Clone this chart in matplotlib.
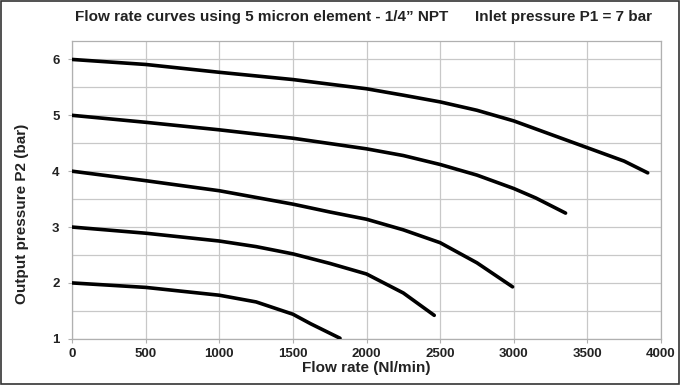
import matplotlib.pyplot as plt
from matplotlib.patches import Rectangle

# curves, one per start pressure
flow_6 = [0, 500, 1000, 1500, 2000, 2250, 2500, 2750, 3000, 3250, 3500, 3750, 3910]
p2_6 = [6.0, 5.91, 5.77, 5.64, 5.475, 5.36, 5.24, 5.09, 4.90, 4.66, 4.42, 4.18, 3.97]
flow_5 = [0, 500, 1000, 1500, 2000, 2250, 2500, 2750, 3000, 3150, 3352]
p2_5 = [5.0, 4.875, 4.74, 4.59, 4.40, 4.28, 4.12, 3.93, 3.69, 3.52, 3.25]
flow_4 = [0, 500, 1000, 1250, 1500, 1750, 2000, 2250, 2500, 2750, 2992]
p2_4 = [4.0, 3.83, 3.65, 3.53, 3.41, 3.27, 3.14, 2.95, 2.72, 2.36, 1.93]
flow_3 = [0, 500, 1000, 1250, 1500, 1750, 2000, 2250, 2460]
p2_3 = [3.0, 2.89, 2.75, 2.65, 2.52, 2.35, 2.16, 1.82, 1.42]
flow_2 = [0, 500, 1000, 1250, 1500, 1620, 1720, 1820]
p2_2 = [2.0, 1.92, 1.78, 1.66, 1.44, 1.27, 1.14, 1.01]

x_ticks = [0, 500, 1000, 1500, 2000, 2500, 3000, 3500, 4000]
y_ticks = [1, 2, 3, 4, 5, 6]

plt.rcParams['font.family'] = ['Liberation Sans', 'DejaVu Sans']

fig = plt.figure(figsize=(6.8, 3.85), dpi=100)
ax = fig.add_axes([0.106, 0.12, 0.866, 0.7735])

for xs, ys in [(flow_6, p2_6), (flow_5, p2_5), (flow_4, p2_4), (flow_3, p2_3), (flow_2, p2_2)]:
    ax.plot(xs, ys, color='black', lw=2.6, solid_capstyle='round', solid_joinstyle='round', zorder=3)

ax.set_xlim(0, 4000)
ax.set_ylim(1, 6.33)
ax.set_xticks(x_ticks)
ax.set_yticks(y_ticks)
ax.set_yticks([1.5, 2.5, 3.5, 4.5, 5.5], minor=True)
ax.grid(True, which='both', color='#c8c8c8', lw=0.9)
ax.set_axisbelow(True)
for s in ax.spines.values():
    s.set_color('#b0b0b0')
    s.set_linewidth(0.9)
ax.tick_params(axis='both', which='major', length=3, color='#b0b0b0', labelsize=9.5, labelcolor='#222222')
ax.tick_params(axis='y', which='minor', length=0)
ax.tick_params(axis='y', pad=6)
for lab in ax.get_xticklabels() + ax.get_yticklabels():
    lab.set_fontweight('bold')

ax.set_xlabel('Flow rate (Nl/min)', fontsize=11, fontweight='bold', color='#222222', labelpad=1)
fig.text(0.032, 1 - 214 / 385, 'Output pressure P2 (bar)', rotation=90, ha='center', va='center',
         fontsize=11, fontweight='bold', color='#222222')

fig.text(75 / 680, 1 - 17 / 385, 'Flow rate curves using 5 micron element - 1/4\u201d NPT',
         ha='left', va='center', fontsize=11, fontweight='bold', color='#222222')
fig.text(652 / 680, 1 - 17 / 385, 'Inlet pressure P1 = 7 bar',
         ha='right', va='center', fontsize=11, fontweight='bold', color='#222222')

fig.patches.append(Rectangle((0.002, 0.003), 0.996, 0.994, transform=fig.transFigure,
                             fill=False, edgecolor='#333333', lw=1.2))

fig.savefig('out.png', dpi=100)
